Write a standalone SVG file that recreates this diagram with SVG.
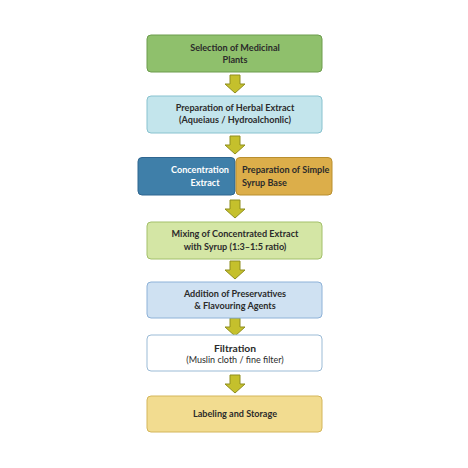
<svg xmlns="http://www.w3.org/2000/svg" width="468" height="468" viewBox="0 0 468 468">
<style>
.t{font-family:Lato,"Liberation Sans",sans-serif;font-size:9.1px;font-weight:bold;fill:#2b2b2b;text-anchor:middle}
.w{fill:#ffffff}
.l{text-anchor:start}
.big{font-size:10.3px}
.n{font-weight:normal;font-size:9px}
.arr{fill:#c5c02c;stroke:#8f8e1f;stroke-width:1}
</style>
<defs>
<polygon id="ar" class="arr" points="-5,0 5,0 5,9 10,9 0,18 -10,9 -5,9"/>
</defs>
<rect width="468" height="468" fill="#ffffff"/>
<g id="connectors">
<use href="#ar" x="235" y="75"/>
<use href="#ar" x="235" y="136"/>
<use href="#ar" x="235" y="200"/>
<use href="#ar" x="235" y="261"/>
<use href="#ar" x="235" y="318"/>
<use href="#ar" x="235" y="375"/>
</g>
<g id="n1">
<rect x="147" y="35" width="175" height="37" rx="4" fill="#8fc06c" stroke="#6d9c4d"/>
<text class="t" x="235" y="51">Selection of Medicinal</text>
<text class="t" x="235" y="63">Plants</text>
</g>
<g id="n2">
<rect x="147" y="96" width="175" height="37" rx="4" fill="#c3e5ec" stroke="#88c2cf"/>
<text class="t" x="235" y="111">Preparation of Herbal Extract</text>
<text class="t" x="235" y="123">(Aqueiaus / Hydroalchonlic)</text>
</g>
<g id="n3a">
<rect x="138" y="157.5" width="97" height="37.5" rx="4" fill="#3f7fa9" stroke="#2f6690"/>
<text class="t w" x="200" y="173">Concentration</text>
<text class="t w" x="205" y="186">Extract</text>
</g>
<g id="n3b">
<rect x="236" y="157.5" width="96" height="37.5" rx="4" fill="#dcae4a" stroke="#b98f2e"/>
<text class="t l" x="242" y="173">Preparation of Simple</text>
<text class="t l" x="242" y="186">Syrup Base</text>
</g>
<g id="n4">
<rect x="147" y="222" width="175" height="37" rx="4" fill="#d4e6a5" stroke="#a3c06a"/>
<text class="t" x="235" y="237">Mixing of Concentrated Extract</text>
<text class="t" x="235" y="250">with Syrup (1:3–1:5 ratio)</text>
</g>
<g id="n5">
<rect x="147" y="282" width="175" height="36" rx="4" fill="#cfe1f2" stroke="#8eb2d8"/>
<text class="t" x="235" y="297">Addition of Preservatives</text>
<text class="t" x="235" y="309">&amp; Flavouring Agents</text>
</g>
<g id="n6">
<rect x="147" y="335" width="175" height="36" rx="4" fill="#ffffff" stroke="#9bbbd6"/>
<text class="t big" x="235" y="352">Filtration</text>
<text class="t n" x="235" y="363">(Muslin cloth / fine filter)</text>
</g>
<g id="n7">
<rect x="147" y="396" width="175" height="36" rx="4" fill="#f2dc90" stroke="#d4b65a"/>
<text class="t" x="235" y="417">Labeling and Storage</text>
</g>
</svg>
